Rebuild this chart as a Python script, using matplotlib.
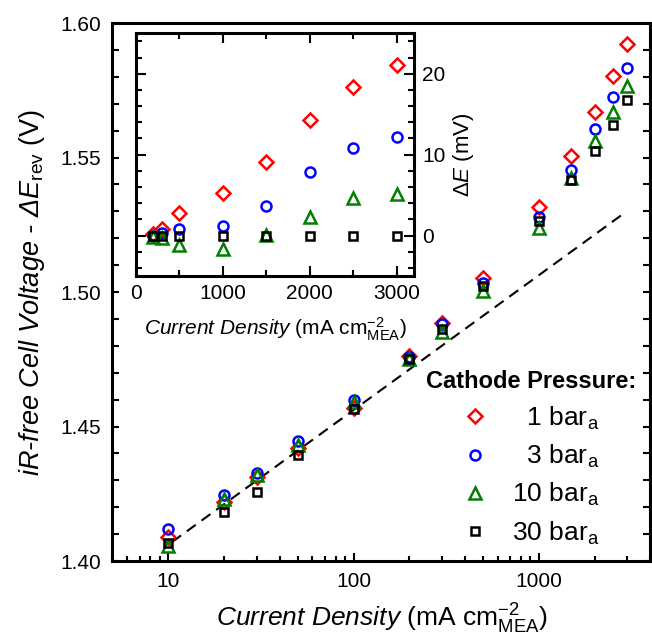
#!/usr/bin/env python3
"""
Cell voltage vs current density at different cathode pressures
Main plot: iR-free cell voltage (log x), inset: voltage difference to 30 bar
"""

import matplotlib.pyplot as plt
from matplotlib.lines import Line2D
from matplotlib.ticker import MultipleLocator, LogLocator, NullFormatter

plt.rcParams['font.family'] = ['Liberation Sans', 'DejaVu Sans']
plt.rcParams['mathtext.fontset'] = 'custom'
plt.rcParams['mathtext.rm'] = 'Liberation Sans'
plt.rcParams['mathtext.it'] = 'Liberation Sans:italic'
plt.rcParams['mathtext.bf'] = 'Liberation Sans:bold'

# main plot data (mA cm-2, V)
current = [10, 20, 30, 50, 100, 200, 300, 500, 1000, 1500, 2000, 2500, 3000]
v_1bar = [1.4088, 1.4220, 1.4312, 1.4421, 1.4569, 1.4763, 1.4886, 1.5051,
          1.5315, 1.5507, 1.5670, 1.5804, 1.5923]
v_3bar = [1.4120, 1.4244, 1.4329, 1.4448, 1.4599, 1.4758, 1.4880, 1.5034,
          1.5278, 1.5454, 1.5605, 1.5726, 1.5833]
v_10bar = [1.4056, 1.4232, 1.4319, 1.4433, 1.4590, 1.4752, 1.4853, 1.5004,
           1.5238, 1.5425, 1.5562, 1.5670, 1.5767]
v_30bar = [1.4068, 1.4181, 1.4256, 1.4393, 1.4566, 1.4751, 1.4864, 1.5022,
           1.5263, 1.5415, 1.5526, 1.5621, 1.5714]

# tafel line end points
tafel_x = [10.5, 2900]
tafel_y = [1.4071, 1.5294]

# inset data (mA cm-2, mV)
inset_current = [200, 300, 500, 1000, 1500, 2000, 2500, 3000]
dE_1bar = [0.2, 0.8, 2.75, 5.2, 9.1, 14.3, 18.4, 21.1]
dE_3bar = [-0.1, 0.3, 0.8, 1.15, 3.7, 7.9, 10.8, 12.2]
dE_10bar = [-0.2, -0.3, -1.15, -1.65, 0.1, 2.25, 4.7, 5.1]
dE_30bar = [0, 0, 0, 0, 0, 0, 0, 0]

labels = ['  1 bar$_\\mathrm{a}$', '  3 bar$_\\mathrm{a}$',
          '10 bar$_\\mathrm{a}$', '30 bar$_\\mathrm{a}$']

STYLES = [
    dict(marker='D', ms=6.8, color='#ff0000'),
    dict(marker='o', ms=7.2, color='#0000ff'),
    dict(marker='^', ms=8.2, color='#008000'),
    dict(marker='s', ms=5.8, color='#000000'),
]
MEW = 1.8


def draw_series(ax, x, ys):
    for y, st in zip(ys, STYLES):
        ax.plot(x, y, linestyle='none', marker=st['marker'], markersize=st['ms'],
                markerfacecolor='none', markeredgecolor=st['color'],
                markeredgewidth=MEW)


def style_spines(ax):
    for sp in ax.spines.values():
        sp.set_linewidth(2.2)


def main():
    fig = plt.figure(figsize=(6.52, 6.39), dpi=100)
    ax = fig.add_axes([0.1725, 0.122, 0.825, 0.842])

    ax.plot(tafel_x, tafel_y, color='black', linewidth=1.5,
            linestyle='--', dashes=(5.3, 3.4))
    draw_series(ax, current, [v_1bar, v_3bar, v_10bar, v_30bar])

    ax.set_xscale('log')
    ax.set_xlim(5, 4000)
    ax.set_ylim(1.40, 1.60)
    ax.set_xticks([10, 100, 1000])
    ax.set_xticklabels(['10', '100', '1000'])
    ax.xaxis.set_minor_locator(LogLocator(base=10, subs=range(2, 10), numticks=20))
    ax.xaxis.set_minor_formatter(NullFormatter())
    ax.set_yticks([1.40, 1.45, 1.50, 1.55, 1.60])
    ax.set_yticklabels(['1.40', '1.45', '1.50', '1.55', '1.60'])
    ax.yaxis.set_minor_locator(MultipleLocator(0.01))
    ax.tick_params(axis='both', which='both', direction='in', labelsize=15,
                   width=1.5, right=True, top=False)
    ax.tick_params(axis='x', which='major', length=6, pad=8)
    ax.tick_params(axis='x', which='minor', length=3.5)
    ax.tick_params(axis='y', which='both', length=5, pad=8)
    style_spines(ax)

    ax.set_xlabel(r'$\mathit{Current\ Density}$ (mA cm$^{-2}_{\mathrm{MEA}}$)',
                  fontsize=19)
    ax.xaxis.label.set_verticalalignment('baseline')
    ax.xaxis.set_label_coords(0.5, -0.122)
    ax.set_ylabel('iR-free Cell Voltage - ΔE$_{\\mathrm{rev}}$ $\\mathrm{(V)}$',
                  fontsize=19.5, fontstyle='italic')
    ax.yaxis.set_label_coords(-0.122, 0.5)

    handles = [Line2D([], [], linestyle='none', marker=st['marker'],
                      markersize=st['ms'], markerfacecolor='none',
                      markeredgecolor=st['color'], markeredgewidth=MEW)
               for st in STYLES]
    ax.legend(handles, labels, title='Cathode Pressure:', frameon=False,
              loc='lower right', bbox_to_anchor=(1.0, 0.0), fontsize=19,
              title_fontproperties={'weight': 'bold', 'size': 17},
              handletextpad=0.9, labelspacing=0.42, handlelength=1.0,
              borderaxespad=0.15)

    # inset
    ins = fig.add_axes([0.2086, 0.568, 0.4264, 0.380])
    draw_series(ins, inset_current, [dE_1bar, dE_3bar, dE_10bar, dE_30bar])
    ins.set_xlim(0, 3200)
    ins.set_ylim(-5, 25)
    ins.set_xticks([0, 1000, 2000, 3000])
    ins.xaxis.set_minor_locator(MultipleLocator(500))
    ins.set_yticks([0, 10, 20])
    ins.yaxis.set_minor_locator(MultipleLocator(2))
    ins.tick_params(axis='both', which='both', direction='in', labelsize=15,
                    width=1.5, top=True, right=True, left=True,
                    labelleft=False, labelright=True)
    ins.tick_params(axis='both', which='major', length=7, pad=6)
    ins.tick_params(axis='both', which='minor', length=4.5)
    style_spines(ins)
    ins.set_xlabel(r'$\mathit{Current\ Density}$ (mA cm$^{-2}_{\mathrm{MEA}}$)',
                   fontsize=15, labelpad=9)
    ins.yaxis.set_label_position('right')
    ins.set_ylabel(r'$\mathit{\Delta E}$ (mV)', fontsize=16)

    fig.savefig('out.png', dpi=100)
    print("Created: out.png")


if __name__ == "__main__":
    main()
